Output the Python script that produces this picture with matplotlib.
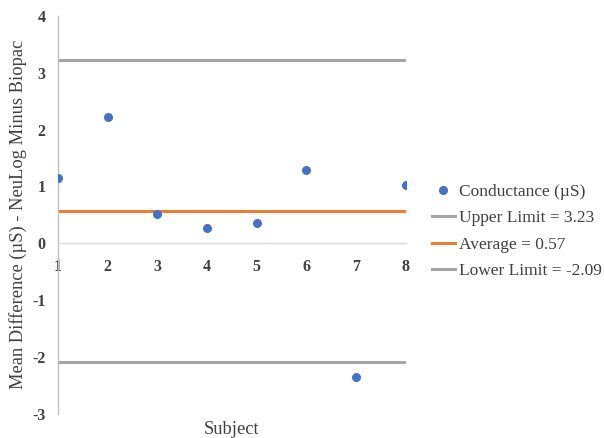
import matplotlib
matplotlib.use("Agg")
import matplotlib.pyplot as plt
from matplotlib.lines import Line2D

subjects = [1, 2, 3, 4, 5, 6, 7, 8]
differences = [1.14, 2.22, 0.52, 0.27, 0.35, 1.29, -2.35, 1.02]
upper_limit = 3.23
average = 0.57
lower_limit = -2.09
yticks = [-3, -2, -1, 0, 1, 2, 3, 4]

plt.rcParams['font.family'] = ['Liberation Serif', 'DejaVu Serif']
plt.rcParams['axes.unicode_minus'] = False

blue = '#4472C4'
gray = '#A5A5A5'
orange = '#ED7D31'

fig = plt.figure(figsize=(6.04, 4.38), dpi=100)
ax = fig.add_axes([0.096, 0.055, 0.576, 0.909])

ax.scatter(subjects, differences, s=30, color=blue, zorder=3, label='Conductance (\u00b5S)')
ax.plot([subjects[0], subjects[-1]], [upper_limit, upper_limit], color=gray, lw=2.2, label='Upper Limit = 3.23')
ax.plot([subjects[0], subjects[-1]], [average, average], color=orange, lw=2.2, label='Average = 0.57')
ax.plot([subjects[0], subjects[-1]], [lower_limit, lower_limit], color=gray, lw=2.2, label='Lower Limit = -2.09')

ax.set_xlim(1, 8)
ax.set_ylim(-3, 4)
ax.set_yticks(yticks)
ax.set_xticks(subjects)

for s in ['top', 'right']:
    ax.spines[s].set_visible(False)
ax.spines['left'].set_color('#BFBFBF')
ax.spines['left'].set_linewidth(1.0)
ax.spines['bottom'].set_position(('data', 0))
ax.spines['bottom'].set_color('#D9D9D9')
ax.spines['bottom'].set_linewidth(1.0)

ax.tick_params(axis='both', length=0, labelsize=11.5, colors='#404040')
ax.tick_params(axis='y', pad=9)
ax.tick_params(axis='x', pad=11)
for lab in ax.get_xticklabels() + ax.get_yticklabels():
    lab.set_fontweight('bold')

ax.set_ylabel('Mean Difference (\u00b5S) - NeuLog Minus Biopac', fontsize=13.3, color='#404040')
ax.yaxis.set_label_coords(-0.09, 0.5)
fig.text(0.384, 0.0, 'Subject', ha='center', va='bottom', fontsize=13.3, color='#404040')

handles = [
    Line2D([], [], marker='o', color=blue, linestyle='none', markersize=5.5),
    Line2D([], [], color=gray, lw=2.2),
    Line2D([], [], color=orange, lw=2.2),
    Line2D([], [], color=gray, lw=2.2),
]
labels = ['Conductance (\u00b5S)', 'Upper Limit = 3.23', 'Average = 0.57', 'Lower Limit = -2.09']
leg = fig.legend(handles, labels, loc='upper left', bbox_to_anchor=(0.703, 0.597),
                 frameon=False, fontsize=12.5, handlelength=1.35, handletextpad=0.25,
                 labelspacing=0.6, borderaxespad=0, labelcolor='#404040')

fig.savefig('out.png', dpi=100)
